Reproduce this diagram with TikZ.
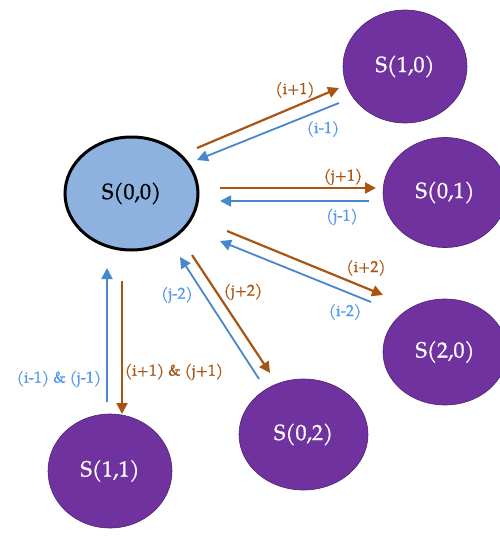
\documentclass[tikz,border=0pt]{standalone}
\usepackage{fontspec}
\setmainfont{TeX Gyre Pagella}
\newfontfamily\statefont[FakeBold=0.9]{TeX Gyre Pagella}
\newfontfamily\labelfont[FakeBold=0.7]{TeX Gyre Pagella}
\usetikzlibrary{shapes.geometric,arrows.meta}
\definecolor{stpurple}{RGB}{112,50,158}
\definecolor{stlight}{RGB}{142,178,224}
\definecolor{upbrown}{RGB}{168,84,18}
\definecolor{downblue}{RGB}{74,134,204}
\definecolor{lblblue}{RGB}{86,152,232}
\tikzset{
  state/.style={ellipse, fill=stpurple, draw=stpurple!70!black, line width=0.6pt,
    text=white, font=\statefont\fontsize{22}{26}\selectfont, inner sep=0pt},
  origin/.style={ellipse, fill=stlight, draw=black, line width=3pt,
    text=black, font=\statefont\fontsize{22}{26}\selectfont, inner sep=0pt},
  uparrow/.style={draw=upbrown, line width=2.2pt,
    -{Triangle[length=11pt,width=11pt]}},
  downarrow/.style={draw=downblue, line width=1.8pt,
    -{Triangle[length=11pt,width=11pt]}},
  uplabel/.style={text=upbrown, font=\labelfont\fontsize{16}{19}\selectfont},
  downlabel/.style={text=lblblue, font=\labelfont\fontsize{16}{19}\selectfont},
}
\begin{document}
\begin{tikzpicture}[x=1pt,y=-1pt]
\useasboundingbox (0,0) rectangle (500,536);

% states
\node[origin, minimum width=133, minimum height=113] (s00) at (131.5,193.5) {S(0,0)};
\node[state, minimum width=124, minimum height=113] (s10) at (405,66.5) {S(1,0)};
\node[state, minimum width=124, minimum height=110] (s01) at (445,192.5) {S(0,1)};
\node[state, minimum width=124, minimum height=106] (s20) at (445,352) {S(2,0)};
\node[state, minimum width=129, minimum height=111] (s02) at (303.5,434.5) {S(0,2)};
\node[state, minimum width=124, minimum height=114] (s11) at (110,471) {S(1,1)};

% arrow end points
\coordinate (a10o) at (197,148);  \coordinate (a10t) at (339,88);
\coordinate (b10o) at (339,103);  \coordinate (b10t) at (197,160);
\coordinate (a01o) at (220,188);  \coordinate (a01t) at (376,188);
\coordinate (b01o) at (369,201);  \coordinate (b01t) at (220,201);
\coordinate (a20o) at (227,231);  \coordinate (a20t) at (383,295);
\coordinate (b20o) at (371,302);  \coordinate (b20t) at (220,241);
\coordinate (a02o) at (192,255);  \coordinate (a02t) at (270,373);
\coordinate (b02o) at (259,379);  \coordinate (b02t) at (180,257);
\coordinate (a11o) at (122,281);  \coordinate (a11t) at (122,414);
\coordinate (b11o) at (107,402);  \coordinate (b11t) at (107,268);

% transitions
\draw[uparrow]   (a10o) -- (a10t);
\draw[downarrow] (b10o) -- (b10t);
\draw[uparrow]   (a01o) -- (a01t);
\draw[downarrow] (b01o) -- (b01t);
\draw[uparrow]   (a20o) -- (a20t);
\draw[downarrow] (b20o) -- (b20t);
\draw[uparrow]   (a02o) -- (a02t);
\draw[downarrow] (b02o) -- (b02t);
\draw[uparrow]   (a11o) -- (a11t);
\draw[downarrow] (b11o) -- (b11t);

% labels
\node[uplabel]   (l10u) at (295,90)  {(i+1)};
\node[downlabel] (l10d) at (323,129) {(i-1)};
\node[uplabel]   (l01u) at (343,177) {(j+1)};
\node[downlabel] (l01d) at (342,217) {(j-1)};
\node[uplabel]   (l20u) at (366,268) {(i+2)};
\node[downlabel] (l20d) at (345,312) {(i-2)};
\node[uplabel]   (l02u) at (243,292) {(j+2)};
\node[downlabel] (l02d) at (177,295) {(j-2)};
\node[uplabel]   (l11u) at (174,372) {(i+1) \& (j+1)};
\node[downlabel] (l11d) at (59,379)  {(i-1) \& (j-1)};
\end{tikzpicture}
\end{document}
